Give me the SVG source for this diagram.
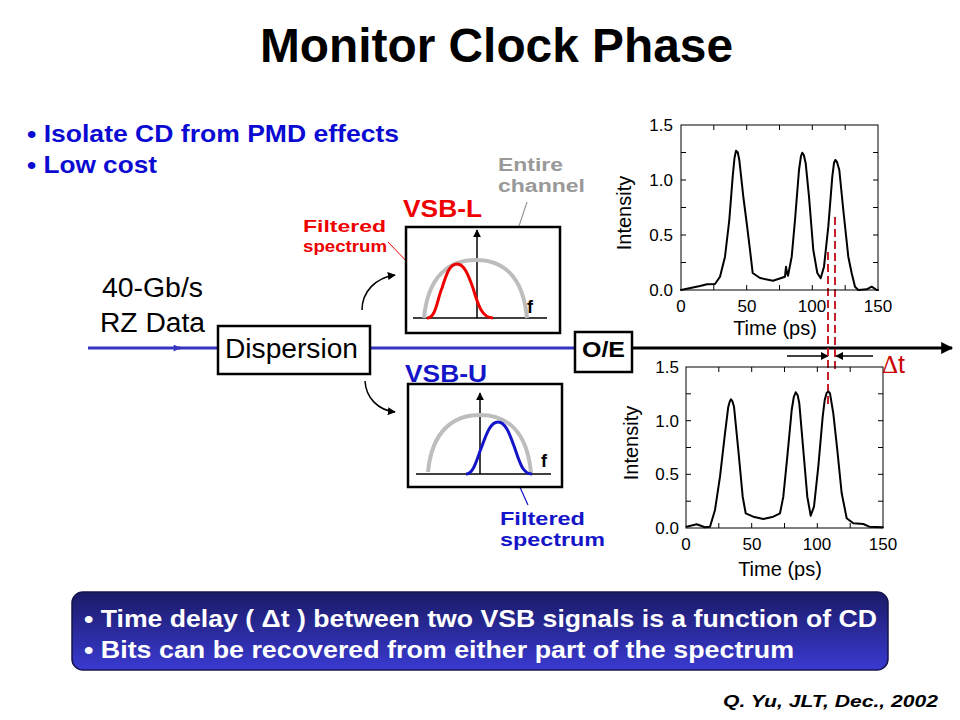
<svg xmlns="http://www.w3.org/2000/svg" width="960" height="720" viewBox="0 0 960 720">
<style>
text{font-family:"Liberation Sans",Arial,sans-serif}
.b{font-weight:bold}
.blue{fill:#0a0ad2}
.red{fill:#ee0000}
.box{fill:#fff;stroke:#000;stroke-width:2.5}
.frame{fill:none;stroke:#000;stroke-width:1}
.tick{stroke:#000;stroke-width:1}
.wave{fill:none;stroke:#000;stroke-width:2;stroke-linejoin:round;stroke-linecap:round}
.ax{font-size:17px;fill:#000}
.axl{font-size:20px;fill:#000}
.spec{fill:none;stroke:#000;stroke-width:1.5}
.chan{fill:none;stroke:#bdbdbd;stroke-width:4}
.dash{stroke:#c8202a;stroke-width:2;stroke-dasharray:8,4;fill:none}
</style>
<defs>
<linearGradient id="sumg" x1="0" y1="0" x2="0" y2="1">
<stop offset="0" stop-color="#1a1a66"/>
<stop offset="1" stop-color="#3a3ad2"/>
</linearGradient>
<marker id="mBig" viewBox="0 0 10 10" refX="9" refY="5" markerWidth="14" markerHeight="12" markerUnits="userSpaceOnUse" orient="auto"><path d="M0,0 L10,5 L0,10 Z" fill="#000"/></marker>
<marker id="mSm" viewBox="0 0 10 10" refX="9" refY="5" markerWidth="8" markerHeight="8" markerUnits="userSpaceOnUse" orient="auto"><path d="M0,0 L10,5 L0,10 Z" fill="#000"/></marker>
<marker id="mBlue" viewBox="0 0 10 10" refX="9" refY="5" markerWidth="8" markerHeight="7" markerUnits="userSpaceOnUse" orient="auto"><path d="M0,0 L10,5 L0,10 Z" fill="#3535c0"/></marker>
<marker id="mBlue2" viewBox="0 0 10 10" refX="9" refY="5" markerWidth="7" markerHeight="7" markerUnits="userSpaceOnUse" orient="auto"><path d="M0,0 L10,5 L0,10 Z" fill="#1414c8"/></marker>
<marker id="mGray" viewBox="0 0 10 10" refX="9" refY="5" markerWidth="7" markerHeight="7" markerUnits="userSpaceOnUse" orient="auto"><path d="M0,0 L10,5 L0,10 Z" fill="#999"/></marker>
</defs>

<rect width="960" height="720" fill="#fff"/>

<g id="title">
<text x="260" y="62" class="b" font-size="48" textLength="473" lengthAdjust="spacingAndGlyphs">Monitor Clock Phase</text>
</g>

<g id="bullets" class="b blue" font-size="24">
<text x="27" y="142" textLength="372" lengthAdjust="spacingAndGlyphs">• Isolate CD from PMD effects</text>
<text x="27" y="173" textLength="130" lengthAdjust="spacingAndGlyphs">• Low cost</text>
</g>

<g id="connectors">
<line x1="88" y1="348" x2="180" y2="348" stroke="#3535c0" stroke-width="3" marker-end="url(#mBlue)"/>
<line x1="178" y1="348" x2="217" y2="348" stroke="#3535c0" stroke-width="3"/>
<line x1="370" y1="348" x2="575" y2="348" stroke="#3535c0" stroke-width="3"/>
<line x1="632" y1="348" x2="952" y2="348" stroke="#000" stroke-width="3" marker-end="url(#mBig)"/>
<path d="M362,310 C362,292 375,278 395,275" fill="none" stroke="#000" stroke-width="1.5" marker-end="url(#mSm)"/>
<path d="M365,381 C366,398 378,410 395,412" fill="none" stroke="#000" stroke-width="1.5" marker-end="url(#mSm)"/>
<line x1="388" y1="242" x2="437" y2="293" stroke="#ee0000" stroke-width="1"/>
<line x1="527" y1="202" x2="505" y2="268" stroke="#999" stroke-width="1.2" marker-end="url(#mGray)"/>
<line x1="528" y1="505" x2="500" y2="443" stroke="#1414c8" stroke-width="1.2" marker-end="url(#mBlue2)"/>
<line x1="787" y1="356" x2="828" y2="356" stroke="#000" stroke-width="1.5" marker-end="url(#mSm)"/>
<line x1="873" y1="356" x2="836" y2="356" stroke="#000" stroke-width="1.5" marker-end="url(#mSm)"/>
<line x1="835" y1="217" x2="835" y2="372" class="dash"/>
<line x1="828" y1="252" x2="828" y2="407" class="dash"/>
</g>

<g id="input-label" font-size="27">
<text x="102" y="297" textLength="101" lengthAdjust="spacingAndGlyphs">40-Gb/s</text>
<text x="100" y="332" textLength="105" lengthAdjust="spacingAndGlyphs">RZ Data</text>
</g>

<g id="dispersion">
<rect x="218" y="326" width="152" height="48" class="box"/>
<text x="225" y="358" font-size="27" textLength="133" lengthAdjust="spacingAndGlyphs">Dispersion</text>
</g>

<g id="oe">
<rect x="575" y="332" width="57" height="40" class="box"/>
<text x="582" y="357" class="b" font-size="22" textLength="43" lengthAdjust="spacingAndGlyphs">O/E</text>
</g>

<g id="vsbL">
<text x="403" y="217" class="b red" font-size="23" textLength="79" lengthAdjust="spacingAndGlyphs">VSB-L</text>
<text x="303" y="232" class="b red" font-size="17" textLength="83" lengthAdjust="spacingAndGlyphs">Filtered</text>
<text x="303" y="252" class="b red" font-size="17" textLength="84" lengthAdjust="spacingAndGlyphs">spectrum</text>
<text x="498" y="171" class="b" fill="#999" font-size="18" textLength="65" lengthAdjust="spacingAndGlyphs">Entire</text>
<text x="498" y="192" class="b" fill="#999" font-size="18" textLength="87" lengthAdjust="spacingAndGlyphs">channel</text>
<rect x="406" y="227" width="154" height="106" class="box" stroke-width="2"/>
<line x1="413" y1="318" x2="547" y2="318" class="spec"/>
<line x1="477" y1="318" x2="477" y2="230" class="spec" marker-end="url(#mSm)"/>
<path d="M424,318 C428,275 450,260 476,260 C502,260 523,275 527,318" class="chan"/>
<path d="M427,318 C436,318 437,300 442,288 C447,272 450,264 457,264 C464,264 468,274 473,288 C478,305 482,318 493,318" fill="none" stroke="#ee0000" stroke-width="3"/>
<text x="527" y="313" class="b" font-size="18">f</text>
</g>

<g id="vsbU">
<text x="405" y="382" class="b" fill="#1414c8" font-size="23" textLength="82" lengthAdjust="spacingAndGlyphs">VSB-U</text>
<rect x="408" y="384" width="154" height="103" class="box" stroke-width="2"/>
<line x1="416" y1="474" x2="551" y2="474" class="spec"/>
<line x1="480" y1="474" x2="480" y2="393" class="spec" marker-end="url(#mSm)"/>
<path d="M428,472 C432,430 454,415 480,415 C506,415 527,430 531,473" class="chan"/>
<path d="M466,474 C474,474 477,458 482,446 C487,432 491,422 498,422 C505,422 509,432 514,446 C519,460 522,474 532,474" fill="none" stroke="#1414c8" stroke-width="3"/>
<text x="541" y="467" class="b" font-size="18">f</text>
<text x="500" y="525" class="b" fill="#1414c8" font-size="18" textLength="85" lengthAdjust="spacingAndGlyphs">Filtered</text>
<text x="500" y="546" class="b" fill="#1414c8" font-size="18" textLength="105" lengthAdjust="spacingAndGlyphs">spectrum</text>
</g>

<g id="plotTop">
<rect x="681" y="125" width="197" height="165" class="frame"/>
<path class="tick" d="M713.8,290v-5M746.7,290v-5M779.5,290v-5M812.3,290v-5M845.2,290v-5M713.8,125v5M746.7,125v5M779.5,125v5M812.3,125v5M845.2,125v5M681,262.5h5M681,235h5M681,207.5h5M681,180h5M681,152.5h5M878,262.5h-5M878,235h-5M878,207.5h-5M878,180h-5M878,152.5h-5"/>
<g class="ax" text-anchor="end">
<text x="673" y="131">1.5</text>
<text x="673" y="186">1.0</text>
<text x="673" y="241">0.5</text>
<text x="673" y="296">0.0</text>
</g>
<g class="ax" text-anchor="middle">
<text x="681" y="312">0</text>
<text x="747" y="312">50</text>
<text x="812" y="312">100</text>
<text x="878" y="312">150</text>
</g>
<text x="775" y="335" class="axl" text-anchor="middle">Time (ps)</text>
<text transform="translate(631,213) rotate(-90)" class="axl" text-anchor="middle">Intensity</text>
<polyline class="wave" points="681,290 700,286 707,284.3 715,284 720,276.7 725,256.7 729.3,220 732.7,176.7 734.5,158 736,150.7 737.8,152.5 739.3,160 743.3,196.7 746.7,223 750,250 752.7,273 760,278 773,280.7 785,276.7 786,266.7 787,273 788,275.7 791.7,256.7 795,220 799,170 801,156 802.3,152.7 803.8,155 805.7,163.3 809,196.7 813.3,250 817.3,273 820.7,278.3 824,266.7 828.3,226.7 832.3,176.7 834,163 835.3,160 837,162 839.3,170 843.3,210 848.3,256.7 851.7,273.3 855,286.7 858.3,290 866.7,289.3 871.7,286.7 876.7,290 878,290"/>
</g>

<g id="plotBottom">
<rect x="686" y="367" width="197" height="161" class="frame"/>
<path class="tick" d="M718.8,528v-5M751.7,528v-5M784.5,528v-5M817.3,528v-5M850.2,528v-5M718.8,367v5M751.7,367v5M784.5,367v5M817.3,367v5M850.2,367v5M686,501.2h5M686,474.3h5M686,447.5h5M686,420.7h5M686,393.8h5M883,501.2h-5M883,474.3h-5M883,447.5h-5M883,420.7h-5M883,393.8h-5"/>
<g class="ax" text-anchor="end">
<text x="679" y="373">1.5</text>
<text x="679" y="427">1.0</text>
<text x="679" y="480">0.5</text>
<text x="679" y="534">0.0</text>
</g>
<g class="ax" text-anchor="middle">
<text x="686" y="550">0</text>
<text x="752" y="550">50</text>
<text x="817" y="550">100</text>
<text x="883" y="550">150</text>
</g>
<text x="780" y="576" class="axl" text-anchor="middle">Time (ps)</text>
<text transform="translate(638,443) rotate(-90)" class="axl" text-anchor="middle">Intensity</text>
<polyline class="wave" points="686.7,526.7 696.7,524.3 705,527.3 710,526.7 715,510 720,476.7 725,433.3 728.3,406.7 729.8,401.5 731,399.3 732.5,401.5 734,406.7 738.3,450 742.7,496.7 745.7,513.3 753.3,516.7 763.3,519 773.3,516.7 780,513.3 783.3,496.7 787.3,456.7 791.7,410 793.8,397 795.7,392.3 797.6,395 799.3,403.3 803.3,450 807.3,496.7 810.7,515.7 814,506.7 818.3,466.7 822.7,416.7 824.7,400 826.7,392.7 828.4,391.5 830,393.3 833.3,413.3 837.3,450 841.7,493.3 846.7,518.3 853.3,523.3 863.3,524 869.3,526.7 882.7,527.3"/>
</g>

<g id="deltaT">
<text x="882" y="373" font-size="25" fill="#cc0000"><tspan font-family="Liberation Serif,serif">Δ</tspan>t</text>
</g>

<g id="summary">
<rect x="72" y="592" width="816" height="78" rx="11" fill="url(#sumg)" stroke="#14144a" stroke-width="1.5"/>
<text x="84" y="627" class="b" fill="#fff" font-size="24" textLength="793" lengthAdjust="spacingAndGlyphs">• Time delay ( Δt ) between two VSB signals is a function of CD</text>
<text x="84" y="658" class="b" fill="#fff" font-size="24" textLength="710" lengthAdjust="spacingAndGlyphs">• Bits can be recovered from either part of the spectrum</text>
</g>

<g id="citation">
<text x="723" y="707" class="b" font-style="italic" font-size="16" textLength="215" lengthAdjust="spacingAndGlyphs">Q. Yu, JLT, Dec., 2002</text>
</g>
</svg>
